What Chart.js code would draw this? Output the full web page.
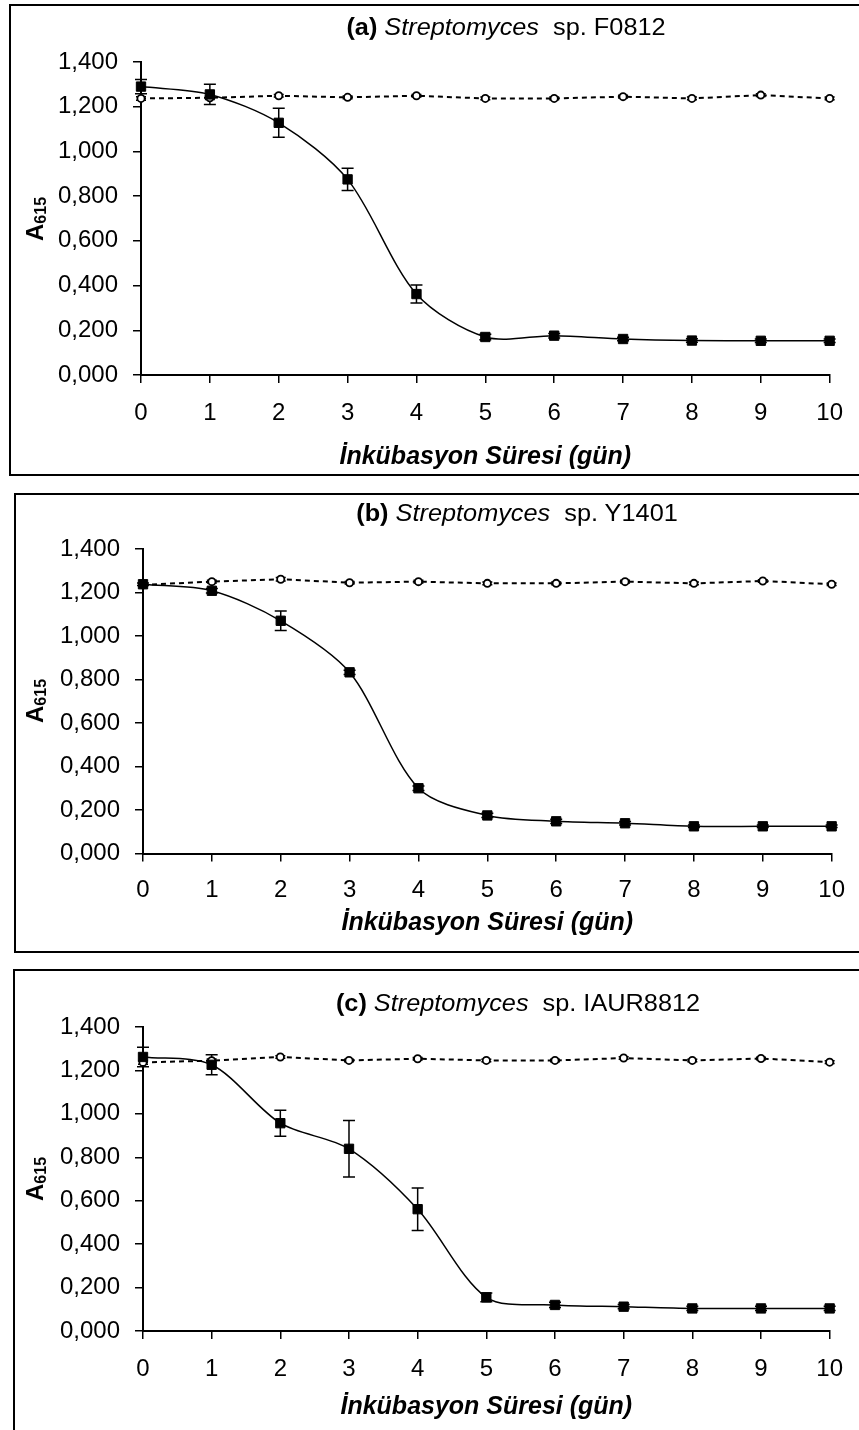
<!DOCTYPE html>
<html><head><meta charset="utf-8">
<script src="https://cdn.jsdelivr.net/npm/chart.js@4.4.0/dist/chart.umd.min.js"></script>
<style>
html,body{margin:0;padding:0;background:#fff;width:859px;height:1430px;overflow:hidden;}
body{position:relative;font-family:"Liberation Sans",Arial,sans-serif;color:#000;}
.box{position:absolute;border:2px solid #000;box-sizing:border-box;}
.cv{position:absolute;left:0;}
.ttl{position:absolute;white-space:pre;font-size:23px;line-height:1;transform:translate(-50%,-50%) scaleX(1.1);}
.ytl{position:absolute;font-weight:bold;font-size:24px;line-height:1;white-space:nowrap;transform:translate(-50%,-50%) rotate(-90deg);}
.ytl sub{font-size:16px;vertical-align:-3px;}
</style></head><body>
<script>
// ---- data ----
const days = [0,1,2,3,4,5,6,7,8,9,10];
const yTickValues = [0,0.2,0.4,0.6,0.8,1.0,1.2,1.4];
const xTitle = 'İnkübasyon Süresi (gün)';
const panelLetters = ['(a)','(b)','(c)'];
const genus = 'Streptomyces';
const strains = ['sp. F0812','sp. Y1401','sp. IAUR8812'];

const aTreated    = [1.290,1.255,1.128,0.875,0.362,0.170,0.176,0.161,0.154,0.153,0.153];
const aTreatedErr = [0.032,0.045,0.065,0.050,0.040,0.012,0.010,0.008,0.008,0.008,0.008];
const aControl    = [1.237,1.240,1.249,1.242,1.249,1.237,1.237,1.245,1.237,1.252,1.237];
const aControlErr = [0.008,0.008,0.006,0.006,0.006,0.006,0.006,0.006,0.006,0.006,0.006];

const bTreated    = [1.238,1.208,1.070,0.833,0.300,0.175,0.148,0.139,0.125,0.125,0.125];
const bTreatedErr = [0.006,0.010,0.045,0.010,0.010,0.010,0.010,0.008,0.006,0.006,0.006];
const bControl    = [1.235,1.250,1.261,1.245,1.250,1.242,1.242,1.250,1.242,1.253,1.238];
const bControlErr = [0.006,0.006,0.008,0.006,0.006,0.006,0.006,0.006,0.006,0.006,0.006];

const cTreated    = [1.262,1.226,0.957,0.839,0.561,0.155,0.120,0.112,0.104,0.104,0.104];
const cTreatedErr = [0.045,0.046,0.060,0.130,0.098,0.020,0.012,0.010,0.010,0.010,0.010];
const cControl    = [1.237,1.245,1.262,1.246,1.254,1.246,1.246,1.257,1.246,1.255,1.238];
const cControlErr = [0.008,0.008,0.006,0.006,0.006,0.006,0.006,0.006,0.006,0.006,0.006];

// ---- layout ----
const panels = [
  {box:{l:9, t:4, b:476}, area:{l:141, r:843, t:62, b:375}, tickPad:16, titlePad:4, ttl:{x:506,y:27},
   treated:aTreated, tErr:aTreatedErr, control:aControl, cErr:aControlErr},
  {box:{l:14, t:493, b:953}, area:{l:143, r:839, t:549, b:853.5}, tickPad:14, titlePad:15, ttl:{x:517,y:513},
   treated:bTreated, tErr:bTreatedErr, control:bControl, cErr:bControlErr},
  {box:{l:13, t:969, b:1440}, area:{l:143, r:840, t:1027, b:1331}, tickPad:16, titlePad:8, ttl:{x:518,y:1003}, cvBottom:1430,
   treated:cTreated, tErr:cTreatedErr, control:cControl, cErr:cControlErr}
];

const errorBars = {
  id:'errorBars',
  beforeDatasetsDraw(chart){
    const ctx = chart.ctx, xs = chart.scales.x, ys = chart.scales.y;
    chart.data.datasets.forEach(ds => {
      const errs = ds.errors; if (!errs) return;
      const w = ds.capHalf || 5;
      ctx.save(); ctx.strokeStyle = '#000'; ctx.lineWidth = 1.5;
      ds.data.forEach((p,i) => {
        const e = errs[i]; if (!e) return;
        const x = xs.getPixelForValue(p.x);
        const y1 = ys.getPixelForValue(p.y + e), y2 = ys.getPixelForValue(p.y - e);
        ctx.beginPath();
        ctx.moveTo(x, y1); ctx.lineTo(x, y2);
        ctx.moveTo(x - w, y1); ctx.lineTo(x + w, y1);
        ctx.moveTo(x - w, y2); ctx.lineTo(x + w, y2);
        ctx.stroke();
      });
      ctx.restore();
    });
  }
};

const fmt = v => v.toFixed(3).replace('.', ',');
const FF = '"Liberation Sans", Arial, sans-serif';

panels.forEach((p, k) => {
  const box = document.createElement('div');
  box.className = 'box';
  box.style.left = p.box.l + 'px'; box.style.top = p.box.t + 'px';
  box.style.width = (870 - p.box.l) + 'px'; box.style.height = (p.box.b - p.box.t) + 'px';
  document.body.appendChild(box);

  const cvTop = p.box.t, cvBottom = p.cvBottom || p.box.b;
  const cv = document.createElement('canvas');
  cv.className = 'cv';
  cv.width = 859; cv.height = cvBottom - cvTop;
  cv.style.top = cvTop + 'px'; cv.style.width = '859px'; cv.style.height = (cvBottom - cvTop) + 'px';
  document.body.appendChild(cv);

  const t = document.createElement('div');
  t.className = 'ttl';
  t.style.left = p.ttl.x + 'px'; t.style.top = p.ttl.y + 'px';
  t.innerHTML = '<b>' + panelLetters[k] + '</b> <i>' + genus + '</i>  ' + strains[k];
  document.body.appendChild(t);

  const yt = document.createElement('div');
  yt.className = 'ytl';
  yt.style.left = '36px'; yt.style.top = ((p.area.t + p.area.b) / 2) + 'px';
  yt.innerHTML = 'A<sub>615</sub>';
  document.body.appendChild(yt);

  const yScaleW = p.area.l, xScaleH = cvBottom - p.area.b;
  new Chart(cv, {
    type: 'line',
    data: {
      datasets: [
        {
          data: days.map((d,i) => ({x:d, y:p.treated[i]})),
          errors: p.tErr, capHalf: 6,
          borderColor:'#000', borderWidth:1.5, backgroundColor:'#000',
          pointStyle:'rect', pointRadius:6.6, pointBorderWidth:1, pointBackgroundColor:'#000', pointBorderColor:'#000',
          tension:0.3, clip:false, fill:false
        },
        {
          data: days.map((d,i) => ({x:d, y:p.control[i]})),
          errors: p.cErr, capHalf: 5,
          borderColor:'#000', borderWidth:2, borderDash:[5,4],
          pointStyle:'circle', pointRadius:3.6, pointBorderWidth:1.8, pointBackgroundColor:'#fff', pointBorderColor:'#000',
          tension:0, clip:false, fill:false
        }
      ]
    },
    options: {
      responsive:false, animation:false, devicePixelRatio:1,
      layout:{padding:{top:p.area.t - cvTop, right:859 - p.area.r, left:0, bottom:0}},
      plugins:{legend:{display:false}, tooltip:{enabled:false}, title:{display:false}},
      scales:{
        x:{
          type:'linear', min:0, max:10,
          afterFit: s => { s.height = xScaleH; },
          ticks:{stepSize:1, color:'#000', padding:p.tickPad, font:{family:FF, size:24}, callback: v => String(v)},
          grid:{drawOnChartArea:false, drawTicks:true, tickLength:8, color:'#000', lineWidth:1.5},
          border:{color:'#000', width:2},
          title:{display:true, text:xTitle, color:'#000', padding:{top:0, bottom:p.titlePad},
                 font:{family:FF, size:25, weight:'bold', style:'italic'}}
        },
        y:{
          type:'linear', min:0, max:1.4,
          afterFit: s => { s.width = yScaleW; },
          afterBuildTicks: s => { s.ticks = yTickValues.map(v => ({value:v})); },
          ticks:{color:'#000', padding:15, font:{family:FF, size:24}, callback: v => fmt(v)},
          grid:{drawOnChartArea:false, drawTicks:true, tickLength:8, color:'#000', lineWidth:1.5},
          border:{color:'#000', width:2}
        }
      }
    },
    plugins:[errorBars]
  });
});
</script>
</body></html>
